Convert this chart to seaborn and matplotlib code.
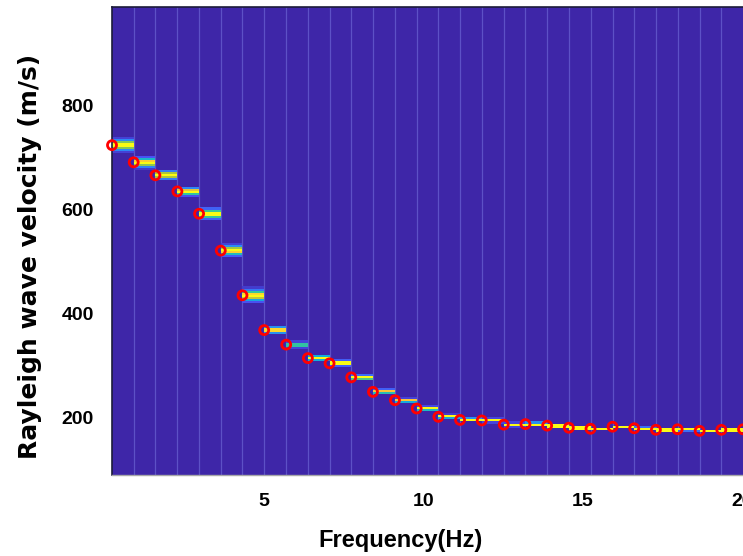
import numpy as np
import matplotlib
matplotlib.use("Agg")
import matplotlib.pyplot as plt
import seaborn as sns
from matplotlib.colors import LinearSegmentedColormap

# ---- data ----
freqs = [0.24, 0.92, 1.60, 2.29, 2.97, 3.65, 4.33, 5.01, 5.70, 6.38,
         7.06, 7.74, 8.42, 9.11, 9.79, 10.47, 11.15, 11.83, 12.52, 13.20,
         13.88, 14.56, 15.24, 15.93, 16.61, 17.29, 17.97, 18.66, 19.34, 20.02]
vels = [724, 691, 666, 635, 592, 521, 435, 368, 340, 314,
        304, 277, 249, 233, 217, 201, 195, 194, 186, 187,
        184, 180, 178, 182, 179, 176, 177, 174, 176, 177]
# half vertical extent (m/s) and peak level of the energy band right of each pick
band_halfwidth = [13.5, 12, 10.5, 9.5, 11.5, 12.5, 14, 8.5, 6.5, 6.5,
                  6.5, 6, 6, 5, 5, 4.5, 4, 4, 4, 4,
                  4, 3.5, 3.5, 3.5, 3.5, 3.5, 3.5, 3.5, 3.5]
band_peak = [1.0, 1.0, 1.0, 1.0, 1.0, 1.0, 1.0, 0.9, 0.55, 1.0,
             1.0, 1.0, 0.85, 0.85, 1.0, 1.0, 1.0, 1.0, 1.0, 1.0,
             1.0, 1.0, 1.0, 1.0, 1.0, 1.0, 1.0, 1.0, 1.0]
x_ticks = [5, 10, 15, 20]
y_ticks = [200, 400, 600, 800]

parula_colors = [(0.2422, 0.1504, 0.6603), (0.2810, 0.3228, 0.9579),
                 (0.1786, 0.5289, 0.9682), (0.0689, 0.6948, 0.8394),
                 (0.2161, 0.7843, 0.5923), (0.6720, 0.7793, 0.2227),
                 (0.9970, 0.7659, 0.2199), (0.9769, 0.9839, 0.0805)]
parula = LinearSegmentedColormap.from_list("parula", parula_colors)

sns.set_theme(style="white")
plt.rcParams["font.family"] = ["Liberation Sans", "DejaVu Sans"]

fig = plt.figure(figsize=(7.43, 5.56), dpi=100)
ax = fig.add_axes([112 / 743, 81 / 556, 631 / 743, 468 / 556])
ax.set_facecolor(parula_colors[0])

# faint column seams
ax.vlines(freqs[1:-1], 0, 1, transform=ax.get_xaxis_transform(),
          colors="#5d51c6", lw=0.9, zorder=1)

vgrid = np.arange(80, 1004, 4)
vc = (vgrid[:-1] + vgrid[1:]) / 2
Z = np.full((len(vc), len(freqs) - 1), np.nan)
for j in range(len(freqs) - 1):
    w = band_halfwidth[j] / 1.52
    col = np.exp(-((vc - vels[j]) / w) ** 2)
    col = band_peak[j] * col / col.max()
    col[col < 0.06] = np.nan
    Z[:, j] = col
ax.pcolormesh(freqs, vgrid, np.ma.masked_invalid(Z), cmap=parula,
              vmin=0, vmax=1, shading="flat", zorder=2)

sns.scatterplot(x=freqs, y=vels, ax=ax, marker="o", s=42, color="red",
                facecolor="none", edgecolor="red", linewidth=2.0,
                zorder=4, clip_on=False, legend=False)

ax.set_xlim(freqs[0], freqs[-1])
ax.set_ylim(89, 990)
ax.set_xticks(x_ticks)
ax.set_yticks(y_ticks)
ax.tick_params(direction="in", length=4, color="#aaaaaa", labelsize=14,
               pad=13, labelcolor="black")
for lbl in ax.get_xticklabels() + ax.get_yticklabels():
    lbl.set_fontweight("bold")

for s in ["left", "top"]:
    ax.spines[s].set_color("#1c1c3a")
    ax.spines[s].set_linewidth(1.2)
ax.spines["bottom"].set_color("#a8a8a8")
ax.spines["bottom"].set_linewidth(1.0)
ax.spines["right"].set_visible(False)

ax.set_xlabel("Frequency(Hz)", fontsize=17, fontweight="bold", color="black")
ax.set_ylabel("Rayleigh wave velocity (m/s)", fontsize=18, fontweight="bold",
              color="black", family=["DejaVu Sans"])
ax.xaxis.set_label_coords(0.458, -0.115)
ax.yaxis.set_label_coords(-0.111, 0.466)

fig.savefig("out.png", dpi=100)
